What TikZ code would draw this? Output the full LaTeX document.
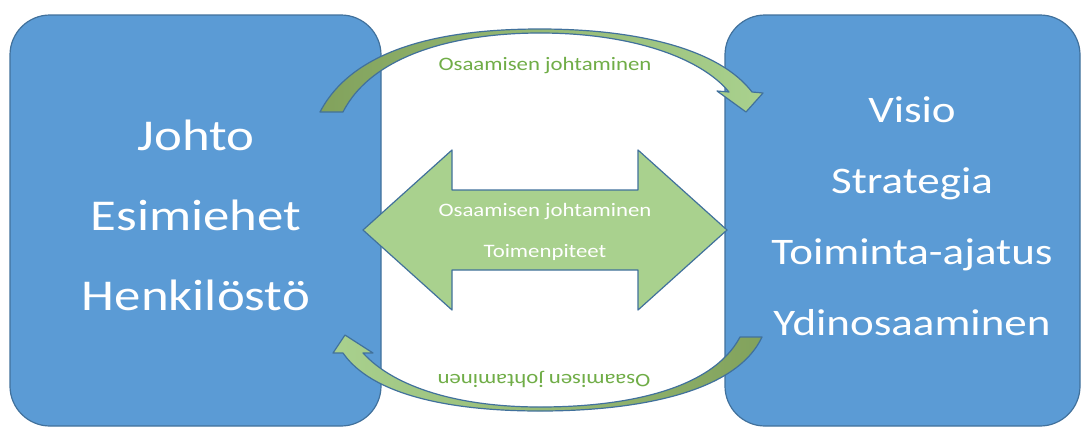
\documentclass[tikz,border=0pt]{standalone}
\usepackage{fontspec}
\setmainfont{Carlito}[FakeStretch=1.2]
\definecolor{boxblue}{HTML}{5B9BD5}
\definecolor{lineblue}{HTML}{41719C}
\definecolor{lightgreen}{HTML}{A9D18E}
\definecolor{darkgreen}{HTML}{82A25C}
\definecolor{textgreen}{HTML}{70AD47}

\begin{document}
\begin{tikzpicture}[x=1pt, y=-1pt,
  box/.style={draw=lineblue, line width=1.2pt, fill=boxblue, rounded corners=40pt},
  bigleft/.style={text=white, anchor=base, font=\fontsize{44}{48}\selectfont},
  bigright/.style={text=white, anchor=base, font=\fontsize{37.5}{40}\selectfont},
  small/.style={anchor=base, font=\fontsize{19}{22}\selectfont},
  band/.style={draw=lineblue, line width=1.2pt, line join=round},
]
\useasboundingbox (0,0) rectangle (1086,429);
\fill[white] (0,0) rectangle (1086,429);

\node[box, minimum width=371pt, minimum height=411pt] (staff) at (195.5,220.5) {};
\node[box, minimum width=355pt, minimum height=411pt] (aims) at (902.5,220.5) {};

\foreach \t [count=\i from 0] in {Johto,Esimiehet,Henkilöstö}
  \node[bigleft] (staff\i) at (196,150+80*\i) {\t};
\foreach \t [count=\i from 0] in {Visio,Strategia,Toiminta-ajatus,Ydinosaaminen}
  \node[bigright] (aims\i) at (912,122+71*\i) {\t};

\draw[band, fill=lightgreen] (363,230) -- (452,150) -- (452,190) -- (638,190) -- (638,150)
  -- (727,230) -- (638,310) -- (638,270) -- (452,270) -- (452,310) -- cycle;
\node[small, text=white] (mid1) at (545,216) {Osaamisen johtaminen};
\node[small, text=white] (mid2) at (545,257) {Toimenpiteet};

\shade[band, left color=darkgreen, right color=lightgreen]
  (320,112) .. controls (355,45) and (450,29) .. (540,29)
  .. controls (640,29) and (720,50) .. (752,92)
  -- (763,93) -- (746,112) -- (717,91) -- (729,92)
  .. controls (700,57) and (630,33) .. (540,33)
  .. controls (455,33) and (372,55) .. (343,112) -- cycle;
\node[small, text=textgreen] (top) at (545,70) {Osaamisen johtaminen};

\shade[band, left color=lightgreen, right color=darkgreen]
  (762,337) .. controls (735,395) and (630,411) .. (540,411)
  .. controls (450,411) and (372,395) .. (343,353)
  -- (333,353) -- (345,335) -- (373,353) -- (363,353)
  .. controls (395,388) and (460,407) .. (540,407)
  .. controls (625,407) and (712,390) .. (740,337) -- cycle;
\node[small, text=textgreen, rotate=180] (bottom) at (544,374) {Osaamisen johtaminen};
\end{tikzpicture}
\end{document}
